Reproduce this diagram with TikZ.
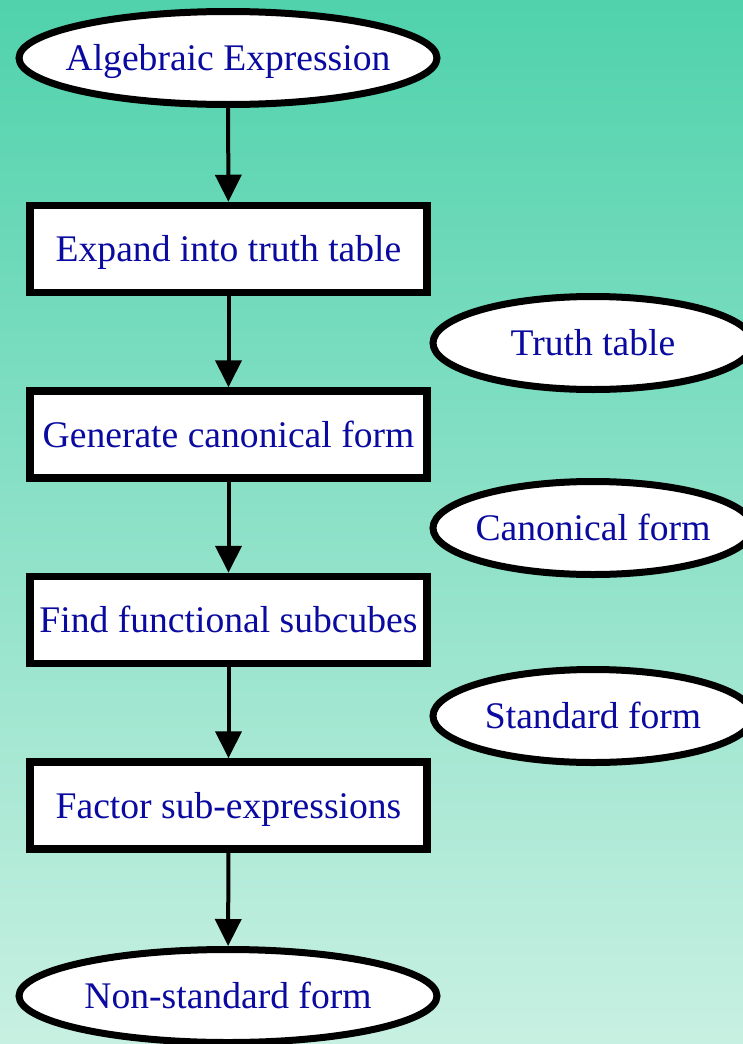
\documentclass[tikz,border=0pt]{standalone}
\usepackage{fontspec}
\setmainfont{Liberation Serif}
\usetikzlibrary{shapes.geometric,arrows.meta}
\definecolor{bgtop}{RGB}{80,210,172}
\definecolor{bgbot}{RGB}{200,240,226}
\definecolor{labelblue}{RGB}{10,10,160}
\tikzset{
  x=1pt,y=1pt,
  txt/.style={text=labelblue,font=\fontsize{37.6}{40}\selectfont,
    text height=30pt,text depth=5pt},
  stepbox/.style={txt,draw=black,fill=white,line width=7.5pt,rectangle,
    inner sep=0pt,minimum width=397pt,minimum height=87pt},
  % ellipses keep a fixed size whatever the label length
  oval/.style={txt,draw=black,fill=white,line width=7pt,ellipse,
    inner xsep=-60pt,inner ysep=-40pt,minimum height=93pt},
  terminal/.style={oval,minimum width=418pt},
  dataitem/.style={oval,minimum width=320pt},
  flow/.style={draw=black,line width=4pt,-{Triangle[width=26pt,length=27pt]}},
}
\begin{document}
\begin{tikzpicture}
\useasboundingbox (0,0) rectangle (743,-1044);
\clip (0,0) rectangle (743,-1044);
\fill[top color=bgtop,bottom color=bgbot] (0,0) rectangle (743,-1044);

% main flow
\node[terminal] (expr) at (228,-58) {Algebraic Expression};
\node[stepbox] (expand) at (228.5,-249) {Expand into truth table};
\node[stepbox] (canon) at (228.5,-434.5) {Generate canonical form};
\node[stepbox] (subcubes) at (228.5,-620) {Find functional subcubes};
\node[stepbox] (factor) at (228.5,-805.5) {Factor sub-expressions};
\node[terminal] (nonstd) at (228,-996) {Non-standard form};

% intermediate results
\node[dataitem] (tt) at (593,-343) {Truth table};
\node[dataitem] (cf) at (593,-528) {Canonical form};
\node[dataitem] (sf) at (593,-716) {Standard form};

\draw[flow] (expr) -- (expand);
\draw[flow] (expand) -- (canon);
\draw[flow] (canon) -- (subcubes);
\draw[flow] (subcubes) -- (factor);
\draw[flow] (factor) -- (nonstd);
\end{tikzpicture}
\end{document}
